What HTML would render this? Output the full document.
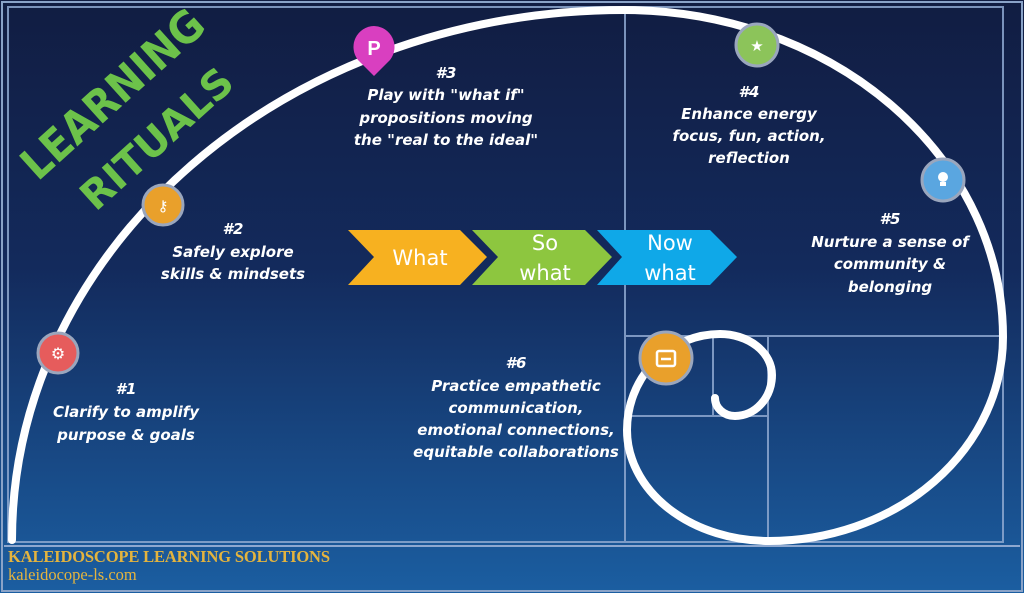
<!DOCTYPE html>
<html><head><meta charset="utf-8"><style>
html,body{margin:0;padding:0;width:1024px;height:593px;overflow:hidden;background:#0e1c40}
svg{display:block}
.t{font-family:"DejaVu Sans","Liberation Sans",sans-serif;font-style:italic;font-weight:bold;fill:#fff;font-size:15px;text-anchor:middle}
</style></head><body>
<svg width="1024" height="593" viewBox="0 0 1024 593" xmlns="http://www.w3.org/2000/svg">
<defs>
<linearGradient id="bg" x1="0" y1="0" x2="0" y2="1">
<stop offset="0" stop-color="#111d42"/><stop offset="0.45" stop-color="#132a5c"/><stop offset="1" stop-color="#1b5ea1"/>
</linearGradient>
</defs>
<rect x="0" y="0" width="1024" height="593" fill="url(#bg)"/>
<rect x="2" y="2" width="1020" height="589" fill="none" stroke="#8aa3c8" stroke-width="2"/>
<g stroke="#8ea8d0" stroke-width="2" fill="none" opacity="0.85">
<rect x="8" y="7" width="995" height="535"/>
<line x1="625" y1="7" x2="625" y2="542"/>
<line x1="625" y1="336" x2="1003" y2="336"/>
<line x1="768" y1="336" x2="768" y2="542"/>
<line x1="625" y1="416" x2="768" y2="416"/>
<line x1="713" y1="336" x2="713" y2="416"/>
</g>
<path d="M12,540 A612,530 0 0 1 624,10 A379,327 0 0 1 1003,337 A234,204 0 0 1 769,541 A142,111 0 0 1 627,430 A93,96 0 0 1 720,334 A52,41 0 0 1 772,375 A37,41 0 0 1 735,416 A20,18 0 0 1 715,398" fill="none" stroke="#fff" stroke-width="8" stroke-linecap="round"/>
<!-- icons -->
<circle cx="58" cy="353" r="20" fill="#e65c5c" stroke="#9aa6bd" stroke-width="3"/>
<text x="58" y="359" font-size="16" fill="#fff" text-anchor="middle" font-family="DejaVu Sans">⚙</text>
<circle cx="163" cy="205" r="20" fill="#e9a02b" stroke="#9aa6bd" stroke-width="3"/>
<text x="163" y="211" font-size="15" fill="#fff" text-anchor="middle" font-family="DejaVu Sans">⚷</text>
<path d="M374,26 a21,21 0 0 1 16,34 l-16,16 l-16,-16 a21,21 0 0 1 16,-34z" fill="#d93fc0"/>
<text x="374" y="55" font-size="20" font-weight="bold" fill="#fff" text-anchor="middle" font-family="Liberation Sans">P</text>
<circle cx="757" cy="45" r="21" fill="#8cc45a" stroke="#9aa6bd" stroke-width="3"/>
<text x="757" y="51" font-size="15" fill="#fff" text-anchor="middle" font-family="DejaVu Sans">★</text>
<circle cx="943" cy="180" r="21" fill="#5aa6e0" stroke="#9aa6bd" stroke-width="3"/>
<circle cx="943" cy="177" r="5" fill="#fff"/><rect x="940" y="182" width="6" height="4" fill="#fff"/>
<circle cx="666" cy="358" r="26" fill="#e9a02b" stroke="#9aa6bd" stroke-width="3"/>
<rect x="657" y="351" width="18" height="15" rx="2" fill="none" stroke="#fff" stroke-width="2.5"/>
<line x1="661" y1="359" x2="671" y2="359" stroke="#fff" stroke-width="2.5"/>
<!-- title -->
<g transform="rotate(-42 120 102)" font-family="DejaVu Sans,Liberation Sans,sans-serif" font-weight="bold" fill="#6cc24a" font-size="40" text-anchor="middle">
<text x="120" y="106" transform="scale(1,1.1)" transform-origin="120 102">LEARNING</text>
</g>
<g transform="rotate(-42 158 140)" font-family="DejaVu Sans,Liberation Sans,sans-serif" font-weight="bold" fill="#6cc24a" font-size="40" text-anchor="middle">
<text x="158" y="152">RITUALS</text>
</g>
<!-- chevrons -->
<polygon points="348,230 460,230 487,257 460,285 348,285 374,257" fill="#f7b120"/>
<polygon points="472,230 585,230 612,257 585,285 472,285 498,257" fill="#8dc63f"/>
<polygon points="597,230 710,230 737,257 710,285 597,285 622,257" fill="#0fa8e8"/>
<g font-family="DejaVu Sans,Liberation Sans,sans-serif" fill="#fff" font-size="21" text-anchor="middle">
<text x="420" y="265">What</text>
<text x="545" y="250">So</text><text x="545" y="280">what</text>
<text x="670" y="250">Now</text><text x="670" y="280">what</text>
</g>
<!-- texts -->
<text class="t" x="126" y="394">#1</text>
<text class="t" x="126" y="417">Clarify to amplify</text>
<text class="t" x="126" y="440">purpose &amp; goals</text>
<text class="t" x="233" y="234">#2</text>
<text class="t" x="233" y="257">Safely explore</text>
<text class="t" x="233" y="279">skills &amp; mindsets</text>
<text class="t" x="446" y="78">#3</text>
<text class="t" x="446" y="100">Play with "what if"</text>
<text class="t" x="446" y="123">propositions moving</text>
<text class="t" x="446" y="145">the "real to the ideal"</text>
<text class="t" x="749" y="97">#4</text>
<text class="t" x="749" y="119">Enhance energy</text>
<text class="t" x="749" y="141">focus, fun, action,</text>
<text class="t" x="749" y="163">reflection</text>
<text class="t" x="890" y="224">#5</text>
<text class="t" x="890" y="247">Nurture a sense of</text>
<text class="t" x="890" y="269">community  &amp;</text>
<text class="t" x="890" y="292">belonging</text>
<text class="t" x="516" y="368">#6</text>
<text class="t" x="516" y="391">Practice empathetic</text>
<text class="t" x="516" y="413">communication,</text>
<text class="t" x="516" y="435">emotional connections,</text>
<text class="t" x="516" y="457">equitable collaborations</text>
<!-- footer -->
<line x1="4" y1="546" x2="1020" y2="546" stroke="#8ea8d0" stroke-width="2"/>
<text x="8" y="562" font-family="Liberation Serif,serif" font-weight="bold" font-size="16.5" fill="#e4b43e" textLength="322">KALEIDOSCOPE LEARNING SOLUTIONS</text>
<text x="8" y="580" font-family="Liberation Serif,serif" font-size="16.5" fill="#e4b43e">kaleidocope-ls.com</text>
</svg>
</body></html>
